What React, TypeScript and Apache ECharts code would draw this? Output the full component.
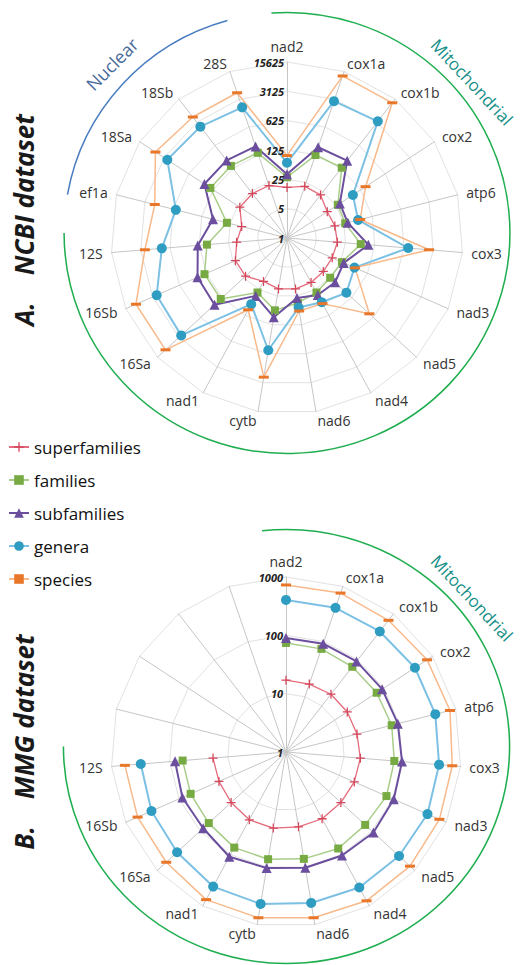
import React, { useEffect, useRef } from 'react';
import * as echarts from 'echarts';

// Gene axes, clockwise from the top
const genes = ['nad2', 'cox1a', 'cox1b', 'cox2', 'atp6', 'cox3', 'nad3', 'nad5', 'nad4', 'nad6', 'cytb', 'nad1', '16Sa', '16Sb', '12S', 'ef1a', '18Sa', '18Sb', '28S'];
const mmgGeneCount = 15; // nad2 .. 12S

const seriesNames = ['superfamilies', 'families', 'subfamilies', 'genera', 'species'];

// A. NCBI dataset (counts, log5 radial scale)
const ncbiSuperfamilies = [16, 20, 20, 14, 15, 16, 15, 15, 16, 17, 17, 15, 22, 22, 16, 13, 22, 22, 21];
const ncbiFamilies = [28, 123, 133, 28, 27, 58, 27, 25, 30, 37, 56, 30, 140, 140, 82, 30, 152, 150, 140];
const ncbiSubfamilies = [33, 193, 216, 32, 31, 88, 30, 36, 35, 28, 82, 37, 222, 213, 136, 66, 224, 220, 203];
const ncbiGenera = [62, 2800, 3330, 75, 56, 790, 57, 84, 55, 48, 515, 62, 2670, 2460, 985, 540, 2550, 2300, 1960];
const ncbiSpecies = [92, 12100, 12100, 172, 63, 2500, 59, 465, 60, 58, 2300, 88, 8600, 8500, 2500, 1780, 5560, 4500, 4560];

// B. MMG dataset (counts, log10 radial scale), nad2 .. 12S
const mmgSuperfamilies = [17, 17, 18, 18, 18, 19, 19, 19, 20, 20, 21, 21, 19, 18, 18];
const mmgFamilies = [74, 74, 71, 72, 74, 73, 76, 70, 76, 72, 73, 73, 63, 61, 60];
const mmgSubfamilies = [90, 92, 93, 93, 95, 99, 104, 109, 104, 103, 104, 110, 85, 87, 81];
const mmgGenera = [405, 410, 415, 437, 437, 430, 445, 430, 437, 420, 437, 420, 345, 330, 315];
const mmgSpecies = [730, 760, 725, 775, 795, 724, 745, 775, 795, 760, 760, 755, 618, 600, 590];

const ncbiTicks = [1, 5, 25, 125, 625, 3125, 15625];
const mmgTicks = [1, 10, 100, 1000];

const ncbiData = [ncbiSuperfamilies, ncbiFamilies, ncbiSubfamilies, ncbiGenera, ncbiSpecies];
const mmgData = [mmgSuperfamilies, mmgFamilies, mmgSubfamilies, mmgGenera, mmgSpecies];

const styles = [
  { line: '#e36b7b', mark: '#d4475b', symbol: 'path://M4.3,0H5.7V4.3H10V5.7H5.7V10H4.3V5.7H0V4.3H4.3Z', size: 9, width: 1.3 },
  { line: '#a8cd88', mark: '#77aa43', symbol: 'rect', size: 8, width: 1.5 },
  { line: '#6b4e9d', mark: '#6b4e9d', symbol: 'triangle', size: 10, width: 2 },
  { line: '#7cc0e4', mark: '#2e9dc1', symbol: 'circle', size: 10, width: 2 },
  { line: '#f8b98b', mark: '#e8772a', symbol: 'rect', size: [10, 3], width: 1.5 },
];

const TOP = { cx: 287, cy: 238, r: 176 };
const BOT = { cx: 286, cy: 752, r: 175 };
const N = genes.length;
const deg = Math.PI / 180;

export default function App() {
  const ref = useRef<HTMLDivElement>(null);
  useEffect(() => {
    if (!ref.current) return;
    const chart = echarts.init(ref.current, undefined, { renderer: 'svg' });

    const radarOrder = (names: string[]) => [names[0], ...names.slice(1).reverse()];
    const ncbiNames = genes;
    const mmgNames = genes.map((g, i) => (i < mmgGeneCount ? g : ''));

    const radarBase = {
      startAngle: 90,
      shape: 'polygon',
      nameGap: 9,
      axisName: { color: '#333', fontSize: 14, fontFamily: 'Open Sans' },
      splitLine: { lineStyle: { color: '#e2e2e2', width: 1 } },
      splitArea: { show: false },
      axisLine: { lineStyle: { color: '#c6c6c6', width: 1 } },
      axisTick: { show: false },
      axisLabel: { show: false },
    };

    const tickLabel = {
      fontSize: 11,
      fontWeight: 'bold',
      fontStyle: 'italic',
      fontFamily: 'Open Sans',
      color: '#222',
      formatter: (v: number) => String(Math.round(v)),
    };

    const hiddenAngle = (polarIndex: number) => ({
      polarIndex,
      type: 'value',
      min: 0,
      max: N,
      startAngle: 90,
      clockwise: true,
      axisLine: { show: false },
      axisTick: { show: false },
      axisLabel: { show: false },
      splitLine: { show: false },
    });

    const makeSeries = (data: number[][], polarIndex: number, close: boolean) =>
      data.map((vals, i) => {
        const st = styles[i];
        const pts: any[] = vals.map((v, k) => [v, k]);
        if (close) pts.push({ value: [vals[0], N], symbol: 'none' });
        return {
          type: 'line',
          name: seriesNames[i],
          coordinateSystem: 'polar',
          polarIndex,
          data: pts,
          symbol: st.symbol,
          symbolSize: st.size,
          showSymbol: true,
          lineStyle: { color: st.line, width: st.width },
          itemStyle: { color: st.mark },
          z: 3,
          silent: true,
        };
      });

    const arc = (c: { x: number; y: number; r: number; sx: number }, a0: number, a1: number, color: string) => ({
      type: 'arc',
      x: c.x,
      y: c.y,
      scaleX: c.sx,
      shape: { cx: 0, cy: 0, r: c.r, startAngle: a0 * deg, endAngle: a1 * deg, clockwise: true },
      style: { stroke: color, lineWidth: 1.5, fill: 'none' },
      silent: true,
    });

    const topArc = { x: 287, y: 233, r: 220.5, sx: 1.011 };
    const botArc = { x: 286.5, y: 746.5, r: 217, sx: 1.028 };

    const sideTitle = (text: string, x: number, y: number) => ({
      type: 'text',
      x,
      y,
      rotation: Math.PI / 2,
      style: {
        text,
        fontSize: 26,
        fontWeight: 'bold',
        fontStyle: 'italic',
        fontFamily: 'Open Sans',
        fill: '#1a1a1a',
        align: 'center',
        verticalAlign: 'middle',
      },
      silent: true,
    });

    const arcLabel = (text: string, x: number, y: number, rot: number, color: string, size: number) => ({
      type: 'text',
      x,
      y,
      rotation: rot * deg,
      style: { text, fontSize: size, fontFamily: 'Open Sans', fill: color, align: 'center', verticalAlign: 'middle' },
      silent: true,
    });

    const option = {
      animation: false,
      backgroundColor: '#ffffff',
      legend: {
        orient: 'vertical',
        left: 8,
        top: 437,
        padding: 0,
        itemWidth: 20,
        itemHeight: 12,
        itemGap: 13,
        selectedMode: false,
        data: seriesNames,
        textStyle: { fontSize: 17, fontFamily: 'Open Sans', color: '#111', lineHeight: 20 },
      },
      radar: [
        {
          ...radarBase,
          center: [TOP.cx, TOP.cy],
          radius: TOP.r,
          splitNumber: ncbiTicks.length - 1,
          indicator: radarOrder(ncbiNames).map((n) => ({ name: n, min: 0, max: ncbiTicks.length - 1 })),
        },
        {
          ...radarBase,
          center: [BOT.cx, BOT.cy],
          radius: BOT.r,
          splitNumber: mmgTicks.length - 1,
          indicator: radarOrder(mmgNames).map((n) => ({ name: n, min: 0, max: mmgTicks.length - 1 })),
        },
      ],
      polar: [
        { center: [TOP.cx, TOP.cy], radius: TOP.r },
        { center: [BOT.cx, BOT.cy], radius: BOT.r },
      ],
      angleAxis: [hiddenAngle(0), hiddenAngle(1)],
      radiusAxis: [
        {
          polarIndex: 0,
          type: 'log',
          logBase: 5,
          min: ncbiTicks[0],
          max: ncbiTicks[ncbiTicks.length - 1],
          splitNumber: ncbiTicks.length - 1,
          axisLine: { show: false },
          axisTick: { show: false },
          splitLine: { show: false },
          axisLabel: { ...tickLabel, inside: true, margin: 3 },
          z: 4,
        },
        {
          polarIndex: 1,
          type: 'log',
          logBase: 10,
          min: mmgTicks[0],
          max: mmgTicks[mmgTicks.length - 1],
          splitNumber: mmgTicks.length - 1,
          axisLine: { show: false },
          axisTick: { show: false },
          splitLine: { show: false },
          axisLabel: { ...tickLabel, inside: true, margin: 3 },
          z: 4,
        },
      ],
      series: [...makeSeries(ncbiData, 0, true), ...makeSeries(mmgData, 1, false)],
      graphic: [
        arc(topArc, -94, 180, '#1fae4f'),
        arc(topArc, 190, 254.5, '#4a7dc0'),
        arc(botArc, -96.3, 180, '#1fae4f'),
        arcLabel('Nuclear', 112, 64, 45, '#4a6b9c', 18),
        arcLabel('Mitochondrial', 472, 82, -47, '#178f88', 17),
        arcLabel('Mitochondrial', 472, 598, -47, '#178f88', 17),
        sideTitle('A.    NCBI dataset', 24, 220),
        sideTitle('B.    MMG dataset', 24, 742),
      ],
    };

    chart.setOption(option as any);
    return () => chart.dispose();
  }, []);

  return <div ref={ref} style={{ position: 'fixed', left: 0, top: 0, width: 523, height: 965 }} />;
}
